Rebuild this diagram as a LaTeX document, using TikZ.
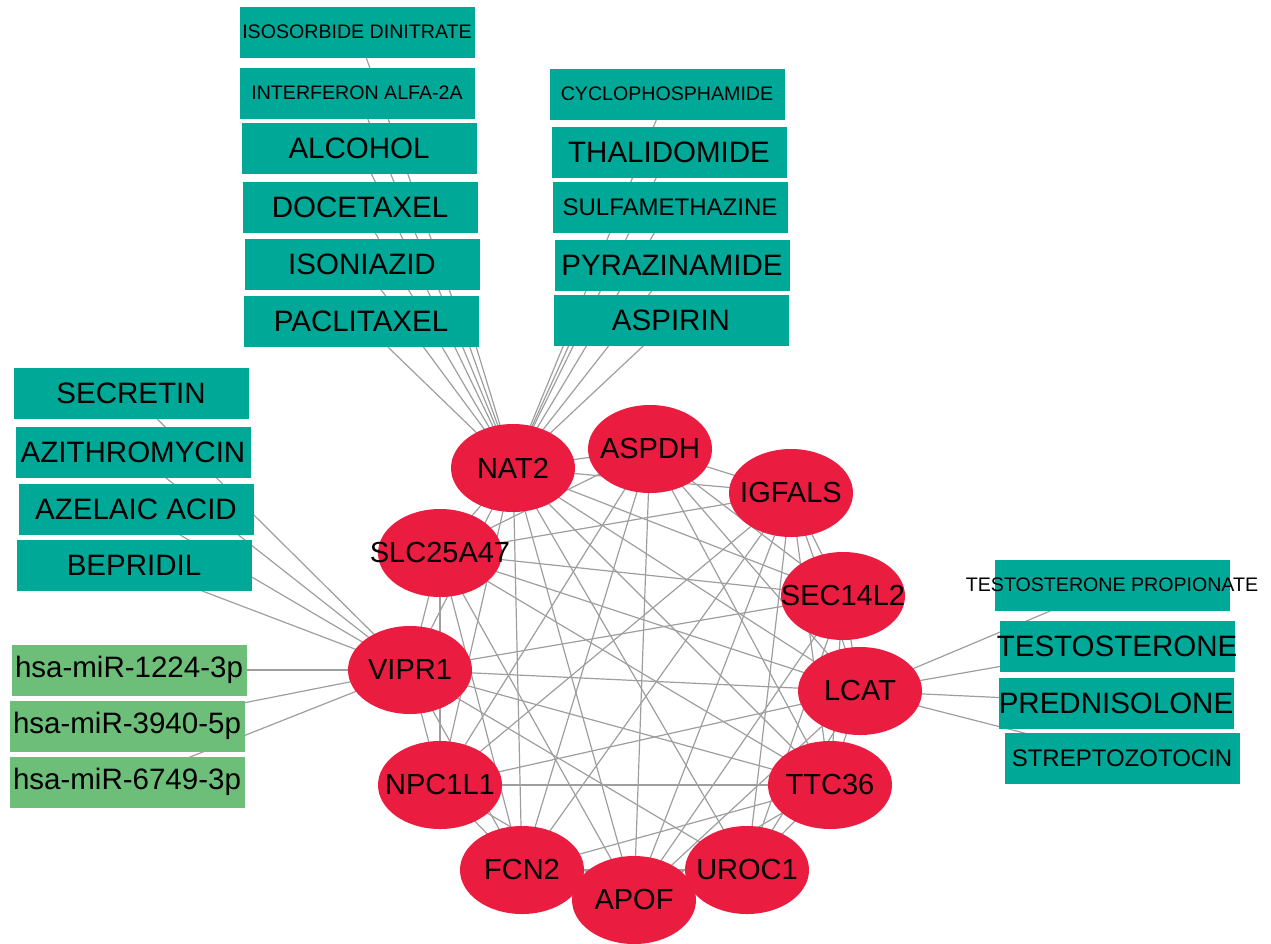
\documentclass[tikz,border=0pt]{standalone}
\usepackage{fontspec}
\setmainfont{Liberation Sans}
\usetikzlibrary{shapes.geometric,backgrounds}
\definecolor{genered}{RGB}{234,28,64}
\definecolor{drugteal}{RGB}{0,168,152}
\definecolor{mirgreen}{RGB}{109,190,121}
\definecolor{edgegray}{RGB}{158,158,158}
\newcommand{\genelabel}[1]{\makebox[0pt][c]{#1}}
\tikzset{
  gene/.style={ellipse,fill=genered,minimum width=124pt,minimum height=88pt,inner sep=0pt,font=\fontsize{29}{30}\selectfont},
  drug/.style={rectangle,fill=drugteal,minimum width=235pt,minimum height=51pt,inner sep=0pt,font=\fontsize{29.5}{31}\selectfont},
  mir/.style={rectangle,fill=mirgreen,minimum width=235pt,minimum height=51pt,inner sep=0pt,font=\fontsize{29.5}{31}\selectfont},
  small/.style={font=\fontsize{19.6}{21}\selectfont},
  mid/.style={font=\fontsize{24}{25}\selectfont},
  link/.style={draw=edgegray,line width=1.2pt}
}
\begin{document}
\begin{tikzpicture}[x=1pt,y=-1pt]
\useasboundingbox (0,0) rectangle (1271,943);
% genes
\node[gene] (nat) at (513,468) {\genelabel{NAT2}};
\node[gene] (asp) at (650,449) {\genelabel{ASPDH}};
\node[gene] (igf) at (791,493) {\genelabel{IGFALS}};
\node[gene] (sec) at (843,596) {\genelabel{SEC14L2}};
\node[gene] (lca) at (860,691) {\genelabel{LCAT}};
\node[gene] (ttc) at (830,785) {\genelabel{TTC36}};
\node[gene] (uro) at (747,870) {\genelabel{UROC1}};
\node[gene] (fcn) at (522,870) {\genelabel{FCN2}};
\node[gene] (apo) at (634,900) {\genelabel{APOF}};
\node[gene] (npc) at (440,785) {\genelabel{NPC1L1}};
\node[gene] (vip) at (410,670) {\genelabel{VIPR1}};
\node[gene] (slc) at (440,553) {\genelabel{SLC25A47}};
% drugs top left
\node[drug,small] (iso) at (357,32) {ISOSORBIDE DINITRATE};
\node[drug,small] (ifn) at (357,93) {INTERFERON ALFA-2A};
\node[drug] (alc) at (359,148) {ALCOHOL};
\node[drug] (doc) at (360,207) {DOCETAXEL};
\node[drug] (isz) at (362,264) {ISONIAZID};
\node[drug] (pac) at (361,321) {PACLITAXEL};
% drugs top right
\node[drug,small] (cyc) at (667,94) {CYCLOPHOSPHAMIDE};
\node[drug] (tha) at (669,152) {THALIDOMIDE};
\node[drug,mid] (sul) at (670,207) {SULFAMETHAZINE};
\node[drug] (pyr) at (672,265) {PYRAZINAMIDE};
\node[drug] (asa) at (671,320) {ASPIRIN};
% drugs left
\node[drug] (scr) at (131,393) {SECRETIN};
\node[drug] (azi) at (133,452) {AZITHROMYCIN};
\node[drug] (aze) at (136,509) {AZELAIC ACID};
\node[drug] (bep) at (134,565) {BEPRIDIL};
% miRNAs
\node[mir] (m1) at (129,670) {hsa-miR-1224-3p};
\node[mir] (m2) at (127,726) {hsa-miR-3940-5p};
\node[mir] (m3) at (127,782) {hsa-miR-6749-3p};
% drugs right
\node[drug] (tpr) at (1112,585) {};
\node[small] (tprlab) at (tpr) {TESTOSTERONE PROPIONATE};
\node[drug] (tes) at (1117,646) {\genelabel{TESTOSTERONE}};
\node[drug] (pre) at (1116,703) {PREDNISOLONE};
\node[drug,mid] (stz) at (1122,758) {STREPTOZOTOCIN};
\coordinate (pacx) at (465,310);
\coordinate (asax) at (585,310);
\begin{pgfonlayer}{background}
\foreach \a/\b in {nat/iso,nat/ifn,nat/alc,nat/doc,nat/isz,nat/pac,nat/pacx,
  nat/cyc,nat/tha,nat/sul,nat/pyr,nat/asa,nat/asax,
  vip/scr,vip/azi,vip/aze,vip/bep,vip/m1,vip/m2,vip/m3,
  lca/tpr,lca/tes,lca/pre,lca/stz,
  nat/asp,nat/igf,nat/sec,nat/lca,nat/ttc,nat/uro,nat/apo,nat/fcn,nat/npc,nat/vip,nat/slc,
  asp/igf,asp/sec,asp/lca,asp/ttc,asp/apo,asp/fcn,asp/npc,asp/slc,
  igf/sec,igf/lca,igf/ttc,igf/uro,igf/apo,igf/fcn,igf/npc,igf/slc,
  sec/lca,sec/ttc,sec/uro,sec/apo,sec/slc,sec/vip,
  lca/ttc,lca/uro,lca/apo,lca/npc,lca/vip,lca/slc,
  ttc/uro,ttc/apo,ttc/npc,ttc/vip,ttc/slc,ttc/fcn,
  uro/apo,uro/fcn,uro/vip,
  apo/fcn,apo/npc,apo/slc,
  fcn/npc,fcn/vip,fcn/slc,
  npc/vip,npc/slc,vip/slc}
  \draw[link] (\a.center) -- (\b.center);
\end{pgfonlayer}
\end{tikzpicture}
\end{document}
